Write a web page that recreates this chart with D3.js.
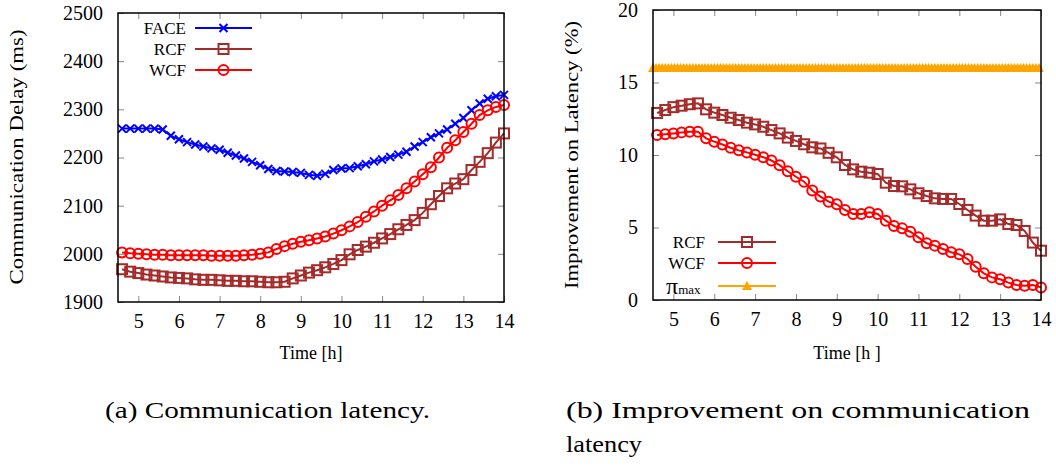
<!DOCTYPE html>
<html>
<head>
<meta charset="utf-8">
<script src="https://cdn.jsdelivr.net/npm/d3@7"></script>
<style>
  body { margin: 0; background: #fff; }
</style>
</head>
<body>
<script>
// time of day in hours, one sample every 12 minutes
var hours = [4.6, 4.8, 5.0, 5.2, 5.4, 5.6, 5.8, 6.0, 6.2, 6.4, 6.6, 6.8, 7.0, 7.2, 7.4, 7.6,
             7.8, 8.0, 8.2, 8.4, 8.6, 8.8, 9.0, 9.2, 9.4, 9.6, 9.8, 10.0, 10.2, 10.4, 10.6, 10.8,
             11.0, 11.2, 11.4, 11.6, 11.8, 12.0, 12.2, 12.4, 12.6, 12.8, 13.0, 13.2, 13.4, 13.6, 13.8, 14.0];

// (a) communication delay in ms
var delayFACE = [2260, 2260, 2260, 2260, 2260, 2258, 2245, 2238, 2232, 2227, 2223, 2219, 2216, 2210, 2204, 2198,
                 2191, 2184, 2176, 2172, 2171, 2170, 2168, 2164, 2162, 2166, 2174, 2177, 2178, 2182, 2186, 2192,
                 2196, 2201, 2206, 2212, 2223, 2232, 2242, 2250, 2258, 2270, 2282, 2298, 2312, 2322, 2327, 2330];
var delayRCF = [1968, 1963, 1960, 1957, 1955, 1953, 1951, 1950, 1949, 1947, 1946, 1946, 1945, 1944, 1944, 1943,
                1943, 1942, 1941, 1941, 1942, 1949, 1955, 1961, 1966, 1972, 1979, 1987, 1999, 2008, 2015, 2023,
                2032, 2041, 2051, 2060, 2070, 2085, 2103, 2120, 2136, 2146, 2155, 2174, 2191, 2209, 2231, 2250];
var delayWCF = [2003, 2001, 2000, 1999, 1998, 1998, 1997, 1997, 1997, 1997, 1997, 1996, 1996, 1996, 1996, 1997,
                1998, 2000, 2003, 2010, 2016, 2021, 2025, 2028, 2032, 2036, 2042, 2049, 2057, 2066, 2077, 2088,
                2100, 2111, 2122, 2136, 2150, 2165, 2180, 2200, 2220, 2236, 2253, 2270, 2288, 2298, 2305, 2309];

// (b) improvement on latency in %
var improvRCF = [12.9, 13.1, 13.3, 13.4, 13.5, 13.56, 13.15, 12.92, 12.76, 12.57, 12.41, 12.23, 12.11, 11.95, 11.72, 11.49,
                 11.2, 10.97, 10.74, 10.53, 10.45, 10.15, 9.84, 9.31, 9.01, 8.85, 8.78, 8.69, 8.09, 7.86, 7.84, 7.63,
                 7.36, 7.17, 7.01, 6.97, 6.97, 6.62, 6.21, 5.82, 5.47, 5.47, 5.56, 5.24, 5.17, 4.76, 3.96, 3.4];
var improvWCF = [11.38, 11.43, 11.49, 11.56, 11.61, 11.61, 11.15, 10.92, 10.72, 10.5, 10.32, 10.18, 10.02, 9.85, 9.62, 9.3,
                 8.88, 8.5, 8.16, 7.55, 7.13, 6.78, 6.6, 6.21, 5.93, 5.93, 6.05, 5.93, 5.47, 5.1, 4.94, 4.71,
                 4.32, 3.91, 3.75, 3.52, 3.29, 3.15, 2.83, 2.3, 1.84, 1.56, 1.43, 1.2, 1.03, 0.99, 1.03, 0.87];
var piMaxValue = 16;
var piMaxHours = d3.range(4.5, 14.001, 0.075);

var xTicks = [5, 6, 7, 8, 9, 10, 11, 12, 13, 14];
var delayTicks = [1900, 2000, 2100, 2200, 2300, 2400, 2500];
var improvTicks = [0, 5, 10, 15, 20];

var BLUE = "#0000ff", BROWN = "#a52a2a", RED = "#ff0000", ORANGE = "#ffa500";

// pick the first serif family the browser really has (canvas width test against monospace)
function pick_serif() {
    let ctx = document.createElement("canvas").getContext("2d");
    let probe = "Communication Delay 0123456789 WwIil";
    ctx.font = "40px monospace";
    let base = ctx.measureText(probe).width;
    let candidates = ["Liberation Serif", "Times New Roman", "DejaVu Serif", "Noto Serif", "FreeSerif", "Tinos", "Times"];
    for (let f of candidates) {
        ctx.font = `40px '${f}', monospace`;
        if (Math.abs(ctx.measureText(probe).width - base) > 0.5) return `'${f}', serif`;
    }
    return "serif";
}
var SERIF = pick_serif();
console.log("font:", SERIF);

var svg = d3.select("body").append("svg")
    .attr("width", 1056)
    .attr("height", 467)
    .attr("font-family", SERIF);

function txt(g, size) {
    return g.append("text").attr("font-family", SERIF).attr("font-size", size).attr("fill", "#000");
}

// draws the frame, inward ticks and tick labels of one panel
function draw_frame(g, x, y, yTicks) {
    let x0 = x.range()[0], x1 = x.range()[1];
    let y0 = y.range()[0], y1 = y.range()[1];

    g.append("g").attr("transform", `translate(0,${y0})`)
        .call(d3.axisBottom(x).tickValues(xTicks).tickSize(-6).tickPadding(12).tickFormat(d3.format("d")));
    g.append("g").attr("transform", `translate(0,${y1})`)
        .call(d3.axisTop(x).tickValues(xTicks).tickSize(-6).tickFormat(""));
    g.append("g").attr("transform", `translate(${x0},0)`)
        .call(d3.axisLeft(y).tickValues(yTicks).tickSize(-6).tickPadding(15).tickFormat(d3.format("d")));
    g.append("g").attr("transform", `translate(${x1},0)`)
        .call(d3.axisRight(y).tickValues(yTicks).tickSize(-6).tickFormat(""));

    g.selectAll(".domain").remove();
    g.selectAll(".tick line").attr("stroke", "#888").attr("stroke-width", 1);
    g.selectAll("g").attr("font-family", SERIF);
    g.selectAll(".tick text")
        .attr("font-family", SERIF)
        .attr("font-size", 20);

    g.append("rect")
        .attr("x", x0).attr("y", y1)
        .attr("width", x1 - x0).attr("height", y0 - y1)
        .attr("fill", "none").attr("stroke", "#000").attr("stroke-width", 1.5);
}

function marker(sel, kind, color) {
    if (kind === "square") {
        sel.append("rect").attr("x", -5).attr("y", -5).attr("width", 10).attr("height", 10)
            .attr("fill", "none").attr("stroke", color).attr("stroke-width", 2);
    } else if (kind === "circle") {
        sel.append("circle").attr("r", 5)
            .attr("fill", "none").attr("stroke", color).attr("stroke-width", 2);
    } else if (kind === "cross") {
        sel.append("path").attr("d", "M-4,-4L4,4M-4,4L4,-4")
            .attr("fill", "none").attr("stroke", color).attr("stroke-width", 2);
    } else if (kind === "triangle") {
        sel.append("path").attr("d", "M0,-5L5,4L-5,4Z")
            .attr("fill", color).attr("stroke", "none");
    }
}

function draw_series(g, x, y, xs, ys, kind, color) {
    let pts = xs.map((t, i) => [t, ys[i]]);
    let line = d3.line().x(d => x(d[0])).y(d => y(d[1]));
    g.append("path").datum(pts)
        .attr("d", line)
        .attr("fill", "none")
        .attr("stroke", color)
        .attr("stroke-width", 2);
    g.selectAll(null).data(pts).enter().append("g")
        .attr("transform", d => `translate(${x(d[0])},${y(d[1])})`)
        .each(function () { marker(d3.select(this), kind, color); });
}

function legend_row(g, label, lx, ly, x1, x2, kind, color) {
    if (label) {
        txt(g, 17).attr("x", lx).attr("y", ly).attr("dy", "0.35em")
            .attr("text-anchor", "end").text(label);
    }
    g.append("line").attr("x1", x1).attr("x2", x2).attr("y1", ly).attr("y2", ly)
        .attr("stroke", color).attr("stroke-width", 2);
    let m = g.append("g").attr("transform", `translate(${(x1 + x2) / 2},${ly})`);
    marker(m, kind, color);
}

/*
 * (a) Communication latency
 */
var xA = d3.scaleLinear().domain([4.5, 14]).range([118, 504]);
var yA = d3.scaleLinear().domain([1900, 2500]).range([302, 13]);
var gA = svg.append("g");

draw_series(gA, xA, yA, hours, delayFACE, "cross", BLUE);
draw_series(gA, xA, yA, hours, delayRCF, "square", BROWN);
draw_series(gA, xA, yA, hours, delayWCF, "circle", RED);
draw_frame(gA, xA, yA, delayTicks);

legend_row(gA, "FACE", 186, 28, 195, 252, "cross", BLUE);
legend_row(gA, "RCF", 186, 49, 195, 252, "square", BROWN);
legend_row(gA, "WCF", 186, 70, 195, 252, "circle", RED);

txt(gA, 18)
    .attr("transform", "translate(23,157) rotate(-90)")
    .attr("text-anchor", "middle")
    .attr("textLength", 255).attr("lengthAdjust", "spacingAndGlyphs")
    .text("Communication Delay (ms)");
txt(gA, 18).attr("x", 311).attr("y", 359)
    .attr("text-anchor", "middle")
    .text("Time [h]");

/*
 * (b) Improvement on communication latency
 */
var xB = d3.scaleLinear().domain([4.5, 14]).range([653, 1041]);
var yB = d3.scaleLinear().domain([0, 20]).range([300, 10]);
var gB = svg.append("g");

draw_series(gB, xB, yB, piMaxHours, piMaxHours.map(() => piMaxValue), "triangle", ORANGE);
draw_series(gB, xB, yB, hours, improvRCF, "square", BROWN);
draw_series(gB, xB, yB, hours, improvWCF, "circle", RED);
draw_frame(gB, xB, yB, improvTicks);

legend_row(gB, "RCF", 705, 242, 718, 776, "square", BROWN);
legend_row(gB, "WCF", 705, 263, 718, 776, "circle", RED);
legend_row(gB, "", 705, 286, 718, 776, "triangle", ORANGE);
var pi = txt(gB, 24).attr("x", 666).attr("y", 294);
pi.append("tspan").text("π");
pi.append("tspan").attr("font-size", 13).text("max");

txt(gB, 18)
    .attr("transform", "translate(578,155) rotate(-90)")
    .attr("text-anchor", "middle")
    .attr("textLength", 268).attr("lengthAdjust", "spacingAndGlyphs")
    .text("Improvement on Latency (%)");
txt(gB, 18).attr("x", 847).attr("y", 359)
    .attr("text-anchor", "middle")
    .text("Time [h ]");

// captions
txt(svg, 23).attr("x", 105).attr("y", 418)
    .attr("textLength", 325).attr("lengthAdjust", "spacingAndGlyphs")
    .text("(a) Communication latency.");
txt(svg, 23).attr("x", 566).attr("y", 418)
    .attr("textLength", 464).attr("lengthAdjust", "spacingAndGlyphs")
    .text("(b) Improvement on communication");
txt(svg, 23).attr("x", 566).attr("y", 452)
    .attr("textLength", 76).attr("lengthAdjust", "spacingAndGlyphs")
    .text("latency");
</script>
</body>
</html>
